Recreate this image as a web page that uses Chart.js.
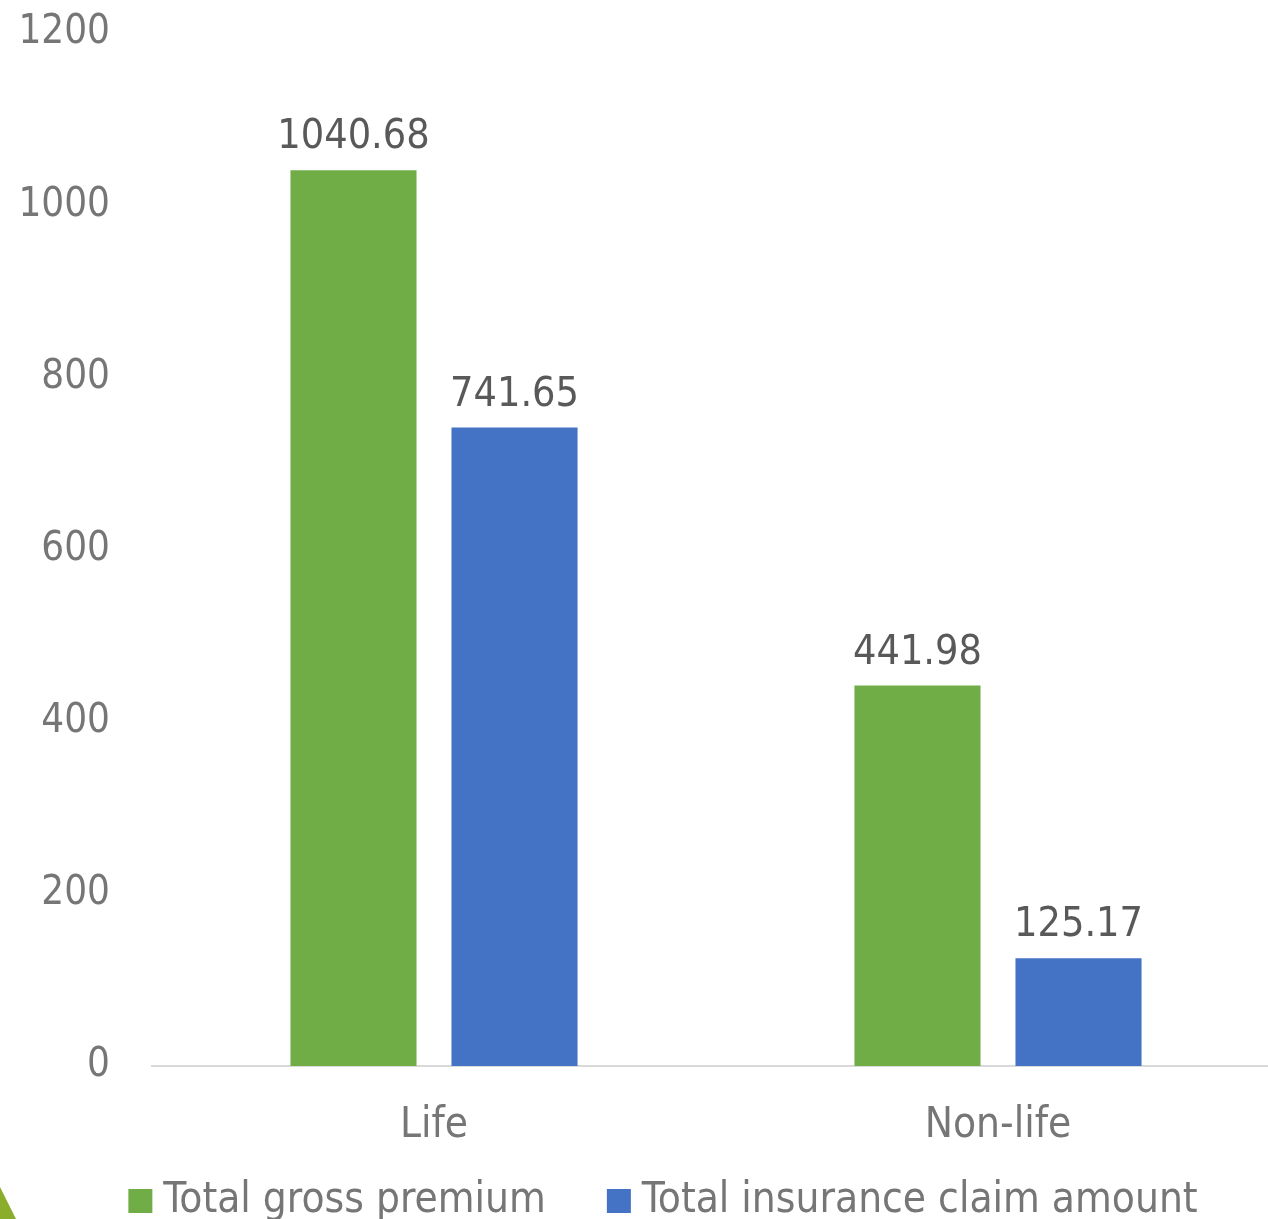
<!DOCTYPE html>
<html>
<head>
<meta charset="utf-8">
<script src="https://cdn.jsdelivr.net/npm/chart.js@4.4.1/dist/chart.umd.min.js"></script>
<style>
  html, body { margin: 0; padding: 0; background: #ffffff; overflow: hidden; }
  #wrap { position: relative; width: 1300px; height: 1219px; }
</style>
</head>
<body>
<div id="wrap"><canvas id="c"></canvas></div>
<script>
// Insurance market figures by segment
const categories = ['Life', 'Non-life'];
const grossPremium = [1040.68, 441.98];
const claimAmount = [741.65, 125.17];
const seriesNames = ['Total gross premium', 'Total insurance claim amount'];
const yTicks = [0, 200, 400, 600, 800, 1000, 1200];

const FONT = '"DejaVu Sans Condensed", "DejaVu Sans", sans-serif';
const AXIS_GREY = '#767676';
const LABEL_GREY = '#595959';

// Writes each bar's value just above it
const valueLabels = {
  id: 'valueLabels',
  afterDatasetsDraw(chart) {
    const ctx = chart.ctx;
    ctx.save();
    ctx.font = '41px ' + FONT;
    ctx.fillStyle = LABEL_GREY;
    ctx.textAlign = 'center';
    ctx.textBaseline = 'alphabetic';
    chart.data.datasets.forEach((ds, i) => {
      chart.getDatasetMeta(i).data.forEach((bar, j) => {
        ctx.fillText(ds.data[j].toFixed(2), bar.x, bar.y - 22);
      });
    });
    ctx.restore();
  }
};

// Gives the axis labels room beyond their tight layout boxes
const axisMargin = {
  id: 'axisMargin',
  afterLayout(chart) {
    chart.scales.y.left = 0;
    chart.scales.x.bottom = chart.height;
  }
};

// Small corner accent of the slide
const cornerAccent = {
  id: 'cornerAccent',
  afterDraw(chart) {
    const ctx = chart.ctx;
    const h = chart.height;
    ctx.save();
    ctx.fillStyle = '#8aad2b';
    ctx.beginPath();
    ctx.moveTo(0, h - 32);
    ctx.lineTo(16, h);
    ctx.lineTo(0, h);
    ctx.closePath();
    ctx.fill();
    ctx.restore();
  }
};

new Chart(document.getElementById('c'), {
  type: 'bar',
  data: {
    labels: categories,
    datasets: [
      { label: seriesNames[0], data: grossPremium, backgroundColor: '#70ad47' },
      { label: seriesNames[1], data: claimAmount, backgroundColor: '#4472c4' }
    ]
  },
  options: {
    responsive: true,
    maintainAspectRatio: false,
    animation: false,
    events: [],
    layout: { padding: { left: 56, right: 20, top: 33, bottom: -13 } },
    datasets: { bar: { categoryPercentage: 0.571, barPercentage: 0.783 } },
    scales: {
      x: {
        afterFit(scale) { scale.height = 43; },
        grid: { display: false },
        border: { display: true, color: '#d9d9d9', width: 2 },
        ticks: { font: { family: FONT, size: 42 }, color: AXIS_GREY, padding: 27 }
      },
      y: {
        min: 0,
        max: 1200,
        afterBuildTicks(scale) { scale.ticks = yTicks.map(v => ({ value: v })); },
        afterFit(scale) {
          scale.width = 96;
          scale.paddingTop = 0;
          scale.paddingBottom = 0;
        },
        grid: { display: false, drawTicks: false },
        border: { display: false },
        ticks: {
          callback: v => String(v),
          font: { family: FONT, size: 40 },
          color: AXIS_GREY,
          padding: 42
        }
      }
    },
    plugins: {
      legend: {
        position: 'bottom',
        labels: {
          usePointStyle: true,
          pointStyle: 'rect',
          boxWidth: 4,
          boxHeight: 24,
          padding: 71,
          color: AXIS_GREY,
          font: { family: FONT, size: 42 }
        }
      },
      tooltip: { enabled: false }
    }
  },
  plugins: [valueLabels, axisMargin, cornerAccent]
});
</script>
</body>
</html>
